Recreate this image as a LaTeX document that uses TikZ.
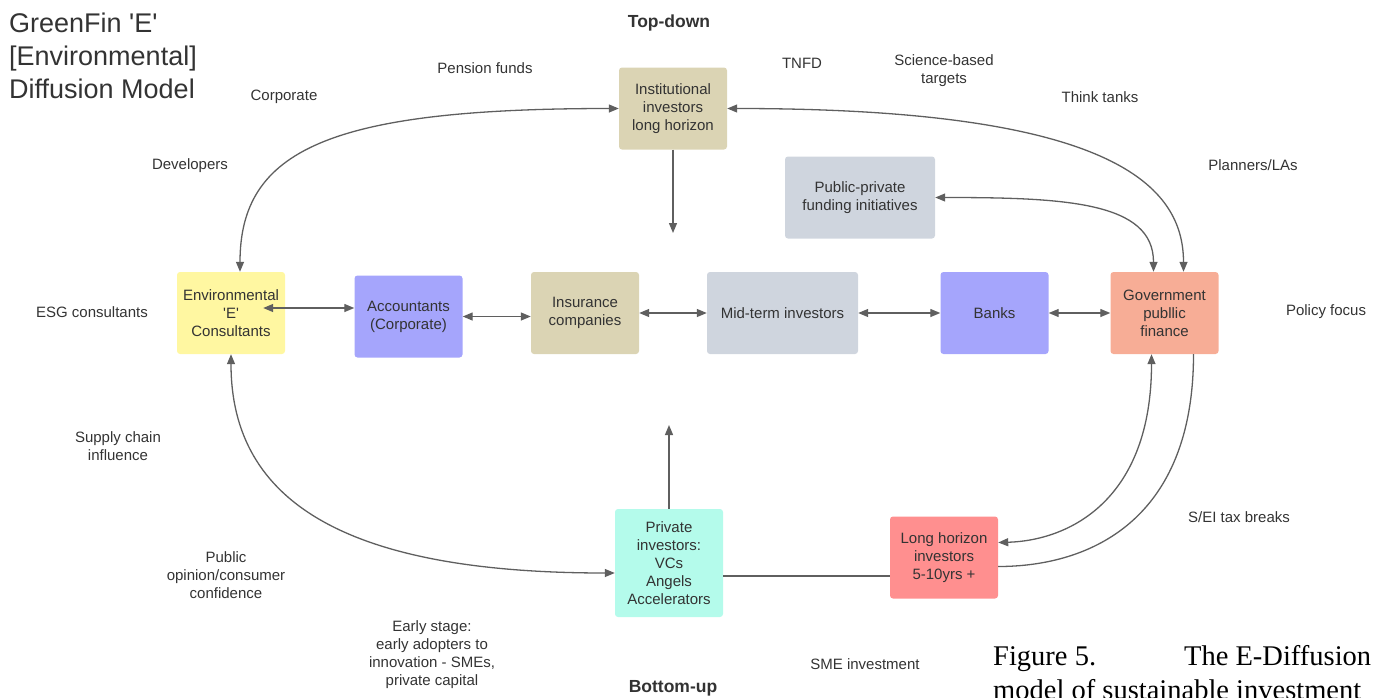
\documentclass[tikz,border=0pt]{standalone}
\usepackage{fontspec}
\setmainfont{Liberation Sans}
\newfontfamily\capfont{Liberation Serif}
\usetikzlibrary{positioning,calc,arrows.meta}
\definecolor{gfink}{HTML}{333333}
\definecolor{gfline}{HTML}{5F5F5F}
\definecolor{gftan}{HTML}{DBD4B4}
\definecolor{gfgrey}{HTML}{CFD5DE}
\definecolor{gfyellow}{HTML}{FFF7A1}
\definecolor{gfpurple}{HTML}{A5A5FC}
\definecolor{gfsalmon}{HTML}{F7AD96}
\definecolor{gfcyan}{HTML}{B4FBEB}
\definecolor{gfred}{HTML}{FF8F8F}
\newcommand{\gfq}{\textquotesingle}

\begin{document}
\begin{tikzpicture}[x=1pt, y=-1pt,
  >={Triangle[length=10pt,width=8pt]},
  box/.style={rounded corners=3pt, minimum width=108pt, minimum height=82pt, inner sep=2pt,
    align=center, text=gfink, font=\fontsize{15}{18}\selectfont},
  lbl/.style={align=center, text=gfink, font=\fontsize{15}{18}\selectfont},
  head/.style={text=gfink, font=\fontsize{17.5}{20}\selectfont\bfseries},
  link/.style={draw=gfline, line width=1.3pt},
]
\useasboundingbox (0,0) rectangle (1381,697);

\node[anchor=north west, inner sep=0pt, align=left, text=gfink, font=\fontsize{27}{33}\selectfont]
  (title) at (9,13) {GreenFin \gfq E\gfq\\{}[Environmental]\\Diffusion Model};

% boxes
\node[box, fill=gftan] (inst) at (673,108.5) {Institutional\\investors\\long horizon};
\node[box, fill=gfgrey, minimum width=150pt] (ppfi) at (860,197.5) {Public-private\\funding initiatives};
\node[box, fill=gfyellow] (env) at (231,313) {Environmental\\\gfq E\gfq\\Consultants};
\node[box, fill=gfpurple] (acc) at (408.5,316.5) {Accountants\\(Corporate)};
\node[box, fill=gftan] (ins) at (585,313) {Insurance\\companies};
\node[box, fill=gfgrey, minimum width=151pt] (mid) at (782.5,313) {Mid-term investors};
\node[box, fill=gfpurple] (banks) at (994.5,313) {Banks};
\node[box, fill=gfsalmon] (gov) at (1164.5,313) {Government\\publlic\\finance};
\node[box, fill=gfcyan, minimum height=108pt] (priv) at (669,563) {Private\\investors:\\VCs\\Angels\\Accelerators};
\node[box, fill=gfred] (long) at (944,557.5) {Long horizon\\investors\\5-10yrs +};

% labels
\node[head] (topdown) at (669,23) {Top-down};
\node[head] (bottomup) at (673,688) {Bottom-up};
\node[lbl] (pension) at (485,68) {Pension funds};
\node[lbl] (corp) at (284,97) {Corporate};
\node[lbl] (devs) at (190,166) {Developers};
\node[lbl] (tnfd) at (802,63) {TNFD};
\node[lbl] (sbt) at (944,71) {Science-based\\targets};
\node[lbl] (think) at (1100,97) {Think tanks};
\node[lbl] (plan) at (1253,165) {Planners/LAs};
\node[lbl] (esg) at (92,312) {ESG consultants};
\node[lbl] (policy) at (1326,312) {Policy focus};
\node[lbl] (supply) at (118,446) {Supply chain\\influence};
\node[lbl] (opinion) at (226,575) {Public\\opinion/consumer\\confidence};
\node[lbl] (early) at (432,654.5) {Early stage:\\early adopters to\\innovation - SMEs,\\private capital};
\node[lbl] (smeinv) at (865,664) {SME investment};
\node[lbl] (taxbreak) at (1239,517) {S/EI tax breaks};

\node[anchor=north west, inner sep=0pt, align=left, text=black,
  font=\capfont\fontsize{28.5}{34}\selectfont] (caption) at (993,645)
  {\makebox[378pt][s]{Figure 5.\hfill The E-Diffusion}\\model of sustainable investment};

% connectors
\coordinate (instdown) at (673,233);
\coordinate (privup) at (669,425);
\draw[link,->] (inst.south) -- (instdown);
\draw[link,->] (priv.north) -- (privup);

\draw[link,<->] ($(env.east)+(-22,-5)$) -- ($(acc.west)+(0,-8.5)$);
\draw[link,<->] (acc.east) -- (acc.east -| ins.west);
\draw[link,<->] (ins.east) -- (mid.west);
\draw[link,<->] (mid.east) -- (banks.west);
\draw[link,<->] (banks.east) -- (gov.west);

\draw[link,<->] ($(env.north)+(9,0)$) .. controls +(0,-122) and +(-289,0) .. (inst.west);
\draw[link,<->] (inst.east) .. controls +(373,0) and +(0,-92) .. ($(gov.north)+(19,0)$);
\draw[link,<->] (ppfi.east) .. controls +(130,0) and +(0,-70) .. ($(gov.north)+(-11,0)$);
\draw[link,<->] (env.south) .. controls +(0,150) and +(-265,0) .. ($(priv.west)+(0,10)$);
\draw[link,<->] ($(gov.south)+(-13,0)$) .. controls +(0,145) and +(72,-2) .. ($(long.east)+(0,-15)$);
\draw[link] ($(gov.south)+(29,0)$) .. controls +(0,166) and +(92,0) .. ($(long.east)+(0,9)$);
\draw[link] ($(priv.east)+(0,13)$) -- ($(long.west)+(0,18.5)$);
\end{tikzpicture}
\end{document}
